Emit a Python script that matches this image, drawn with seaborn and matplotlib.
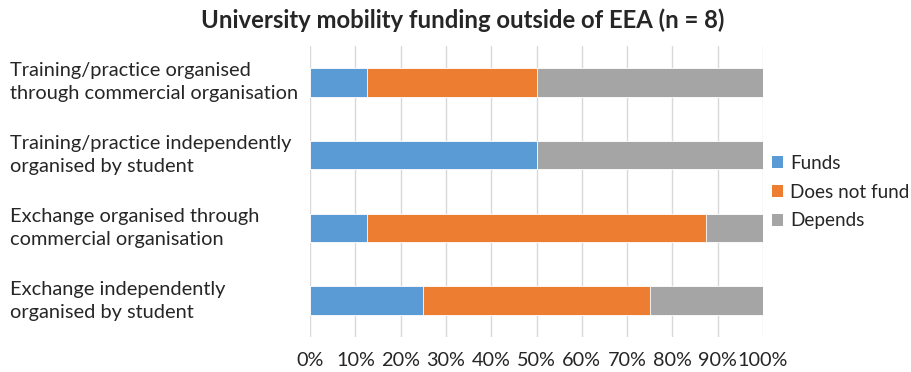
import matplotlib
matplotlib.use("Agg")
import matplotlib.pyplot as plt
import matplotlib.transforms as mtransforms
from matplotlib.patches import Patch
import numpy as np
import pandas as pd
import seaborn as sns

# Survey answers, in percent of responding universities (n = 8)
categories = [
    "Training/practice organised\nthrough commercial organisation",
    "Training/practice independently\norganised by student",
    "Exchange organised through\ncommercial organisation",
    "Exchange independently\norganised by student",
]
funds = [12.5, 50.0, 12.5, 25.0]
does_not_fund = [37.5, 0.0, 75.0, 50.0]
depends = [50.0, 50.0, 12.5, 25.0]

series_names = ["Funds", "Does not fund", "Depends"]
colors = ["#5B9BD5", "#ED7D31", "#A5A5A5"]
tick_values = [0, 10, 20, 30, 40, 50, 60, 70, 80, 90, 100]
title = "University mobility funding outside of EEA (n = 8)"

sns.set_theme(style="white")
plt.rcParams["font.family"] = ["Lato", "DejaVu Sans"]

df = pd.DataFrame({
    "category": categories,
    "Funds": funds,
    "Does not fund": does_not_fund,
    "Depends": depends,
})
# cumulative right edges for stacking
df["c1"] = df["Funds"]
df["c2"] = df["Funds"] + df["Does not fund"]
df["c3"] = df["c2"] + df["Depends"]

fig = plt.figure(figsize=(9.11, 3.72), dpi=100)
ax = fig.add_axes([310 / 911, 35 / 372, 453 / 911, 291 / 372])

# vertical gridlines behind the bars
for t in tick_values:
    ax.axvline(t, color="#D9D9D9", lw=1.0, zorder=0)

# draw stacked segments, widest first so each narrower layer sits on top
for col, color in zip(["c3", "c2", "c1"], colors[::-1]):
    sns.barplot(data=df, x=col, y="category", orient="h", color=color,
                width=0.39, saturation=1, edgecolor="white", linewidth=0.6,
                ax=ax, zorder=2)

ax.set_xlim(0, 100)
ax.set_ylim(3.5, -0.5)
ax.set_xticks(tick_values)
ax.set_xticklabels([f"{t}%" for t in tick_values], fontsize=14.3, color="#262626")
ax.tick_params(axis="x", length=0, pad=11)
ax.set_yticks(range(len(categories)))
ax.set_yticklabels([])
ax.tick_params(axis="y", length=0)
ax.set_xlabel("")
ax.set_ylabel("")
for s in ax.spines.values():
    s.set_visible(False)

# left-aligned category labels
trans = mtransforms.blended_transform_factory(fig.transFigure, ax.transData)
for i, cat in enumerate(categories):
    fig.text(10 / 911, i, cat, transform=trans, ha="left", va="center",
             fontsize=14.4, color="#262626", linespacing=1.42)

fig.text(463 / 911, 1 - 20 / 372, title, ha="center", va="center",
         fontsize=17.2, fontweight="bold", color="#262626")

handles = [Patch(facecolor=c, edgecolor="none") for c in colors]
fig.legend(handles, series_names, loc="center left",
           bbox_to_anchor=(772 / 911, 1 - 192 / 372), frameon=False,
           fontsize=13.6, handlelength=0.6, handleheight=0.6,
           handletextpad=0.35, labelspacing=0.62, borderaxespad=0,
           borderpad=0, labelcolor="#262626")

fig.savefig("out.png", dpi=100)
